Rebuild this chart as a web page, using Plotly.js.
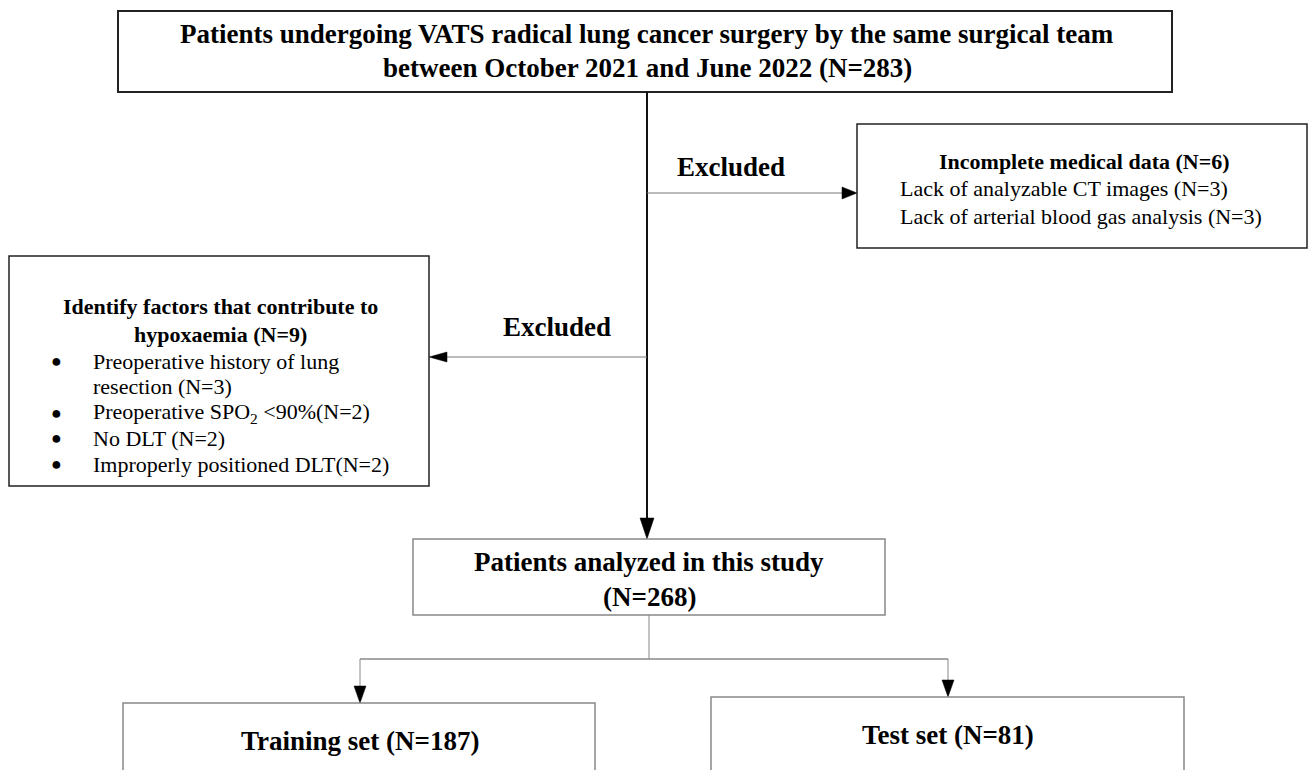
<!DOCTYPE html>
<html><head><meta charset="utf-8">
<script src="https://cdn.plot.ly/plotly-3.0.1.min.js"></script>
<style>html,body{margin:0;padding:0;background:#fff;}#chart{width:1309px;height:770px;}</style>
</head><body><div id="chart"></div>
<script>
// ---- content ----
const topText = ["Patients undergoing VATS radical lung cancer surgery by the same surgical team", "between October 2021 and June 2022 (N=283)"];
const excludedLabel = "Excluded";
const rightTitle = "Incomplete medical data (N=6)";
const rightItems = ["Lack of analyzable CT images (N=3)", "Lack of arterial blood gas analysis (N=3)"];
const leftTitle = ["Identify factors that contribute to", "hypoxaemia (N=9)"];
const leftItems = [["Preoperative history of lung", "resection (N=3)"], ["Preoperative SPO<sub>2</sub> &lt;90%(N=2)"], ["No DLT (N=2)"], ["Improperly positioned DLT(N=2)"]];
const bulletChar = "●";
const midText = ["Patients analyzed in this study", "(N=268)"];
const trainText = "Training set (N=187)";
const testText = "Test set (N=81)";

const FONT = "Liberation Serif, Times New Roman, serif";
const shapes = [];
const ann = [];
function rect(x0,y0,x1,y1,w,c){shapes.push({type:'rect',xref:'x',yref:'y',x0,y0,x1,y1,line:{color:c||'#222',width:w||1.5},fillcolor:'rgba(0,0,0,0)'});}
function line(x0,y0,x1,y1,w,c){shapes.push({type:'line',xref:'x',yref:'y',x0,y0,x1,y1,line:{color:c||'#666',width:w||1}});}
function tri(pts){shapes.push({type:'path',xref:'x',yref:'y',path:'M'+pts.map(p=>p.join(',')).join(' L')+' Z',fillcolor:'#000',line:{color:'#000',width:0.5}});}
function txt(x,y,t,size,bold,anchor){ann.push({xref:'x',yref:'y',x,y,text:bold?'<b>'+t+'</b>':t,showarrow:false,xanchor:anchor||'center',yanchor:'middle',font:{family:FONT,size:size,color:'#000'}});}

// Top box
rect(118,11,1172,92,2,'#222');
txt(647,34,topText[0],27,true);
txt(647,68,topText[1],27,true);

// main vertical line
line(647,92,647,520,2,'#111');
tri([[640,518],[654,518],[647,539]]);

// right branch
line(647,193,843,193,1,'#777');
tri([[842,187],[842,199],[857,193]]);
txt(731,167,excludedLabel,27,true);
rect(857,124,1307,248,1.5,'#222');
txt(1084,161,rightTitle,22,true);
txt(898,188,rightItems[0],22,false,'left');
txt(898,216,rightItems[1],22,false,'left');

// left branch
line(647,357,446,357,1,'#777');
tri([[447,352],[447,362],[429,357]]);
txt(557,327,excludedLabel,27,true);
rect(9,256,429,486,1.5,'#222');
txt(220,306,leftTitle[0],22,true);
txt(220,334,leftTitle[1],22,true);
const itemY = [[361,386],[413],[438],[464]];
leftItems.forEach((it,i)=>{
  txt(56,itemY[i][0],bulletChar,18,false);
  it.forEach((l,j)=>txt(91,itemY[i][j],l,22,false,'left'));
});

// middle box
rect(413,539,885,615,1.5,'#888');
txt(649,562,midText[0],27,true);
txt(649,597,midText[1],27,true);

// split
line(649,615,649,659,1,'#888');
line(360,659,948,659,1.5,'#888');
line(360,659,360,688,1,'#888');
line(948,659,948,682,1,'#888');
tri([[354,686],[366,686],[360,703]]);
tri([[942,680],[954,680],[948,697]]);

// bottom boxes
rect(123,703,595,800,1.5,'#888');
rect(711,697,1184,800,1.5,'#888');
txt(360,741,trainText,27,true);
txt(948,735,testText,27,true);

const layout = {
  width:1309,height:770,margin:{l:0,r:0,t:0,b:0},
  paper_bgcolor:'#fff',plot_bgcolor:'#fff',
  xaxis:{range:[0,1309],visible:false,fixedrange:true},
  yaxis:{range:[770,0],visible:false,fixedrange:true},
  shapes:shapes,annotations:ann,showlegend:false
};
Plotly.newPlot('chart',[],layout,{staticPlot:true,displayModeBar:false});
</script></body></html>
